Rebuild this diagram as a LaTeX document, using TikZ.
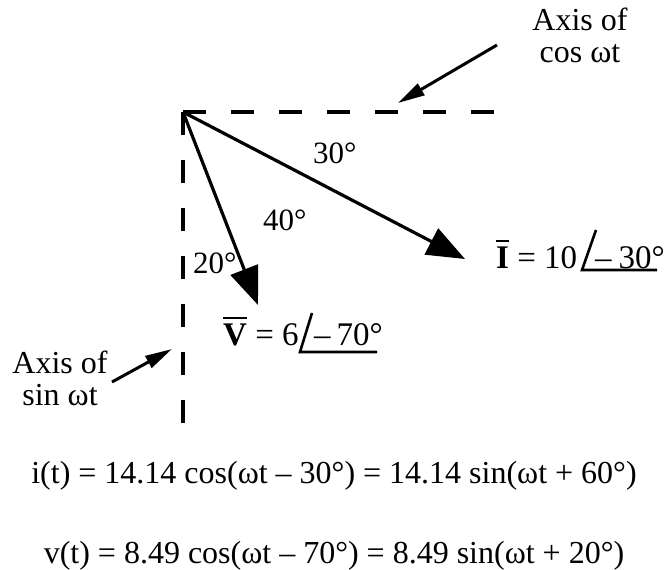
\documentclass[tikz,border=0pt]{standalone}
\usepackage{fontspec}
\setmainfont{Liberation Serif}
\usetikzlibrary{arrows.meta,positioning}

\newcommand{\phbar}[1]{\vbox{\hrule height 2.6pt\kern 4pt\hbox{\textbf{#1}}}}

\tikzset{
  txt/.style={inner sep=0pt,font=\fontsize{32}{32}\selectfont},
  anglbl/.style={inner sep=0pt,font=\fontsize{31}{32}\selectfont},
  phlabel/.style={inner sep=0pt,font=\fontsize{33}{34}\selectfont},
  phasor/.style={line width=3.2pt,-{Triangle[length=38pt,width=29pt]}},
  pointer/.style={line width=3pt,-{Triangle[length=27pt,width=13pt]}},
  axisline/.style={line width=3.2pt,dash pattern=on 23pt off 25pt},
  angline/.style={line width=2.6pt}
}

\begin{document}
\begin{tikzpicture}[x=1pt,y=1pt]
  \useasboundingbox (0,0) rectangle (665,-570);
  % axes
  \coordinate (O) at (183,-112);
  \coordinate (cosend) at (494,-112);
  \coordinate (sinend) at (183,-423);
  \draw[axisline] (O) -- (cosend);
  \draw[axisline] (O) -- (sinend);
  % phasors
  \coordinate (Itip) at (465,-259);
  \coordinate (Vtip) at (258,-305);
  \draw[phasor] (O) -- (Itip);
  \draw[phasor] (O) -- (Vtip);
  % angles
  \node[anglbl,anchor=base west] (a30) at (313,-163) {30°};
  \node[anglbl,anchor=base west] (a40) at (263,-230) {40°};
  \node[anglbl,anchor=base west] (a20) at (193,-273) {20°};
  % axis labels
  \node[txt,align=center] (coslbl) at (580,-35) {Axis of\\cos ωt};
  \node[txt,align=center] (sinlbl) at (60,-378) {Axis of\\sin ωt};
  \coordinate (costail) at (497,-45);
  \coordinate (costip) at (398,-103);
  \coordinate (sintail) at (112,-382);
  \coordinate (sintip) at (172,-349);
  \draw[pointer] (costail) -- (costip);
  \draw[pointer] (sintail) -- (sintip);
  % phasor labels
  \node[phlabel,anchor=base west] (Imag) at (496,-268) {\phbar{I} = 10};
  \node[phlabel,anchor=base west] (Iarg) at (595,-268) {–\hspace{7pt}30°};
  \draw[angline] ([xshift=1pt,yshift=38pt]Iarg.base west)
    -- ([xshift=-13pt,yshift=-2pt]Iarg.base west)
    -- ([xshift=-8pt,yshift=-2pt]Iarg.base east);
  \node[phlabel,anchor=base west] (Vmag) at (223,-345) {\phbar{V} = 6};
  \node[phlabel,anchor=base west] (Varg) at (314,-345) {–\hspace{6pt}70°};
  \draw[angline] ([xshift=-2pt,yshift=32pt]Varg.base west)
    -- ([xshift=-14pt,yshift=-7pt]Varg.base west)
    -- ([xshift=-6pt,yshift=-7pt]Varg.base east);
  % time functions
  \node[txt,anchor=base] (ieq) at (334,-483)
    {i(t) = 14.14 cos(ωt – 30°) = 14.14 sin(ωt + 60°)};
  \node[txt,anchor=base] (veq) at (334,-563)
    {v(t) = 8.49 cos(ωt – 70°) = 8.49 sin(ωt + 20°)};
\end{tikzpicture}
\end{document}
